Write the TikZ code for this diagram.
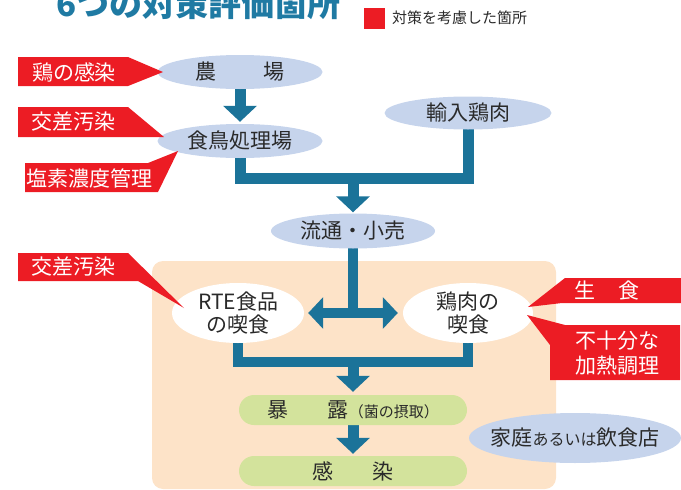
\documentclass[tikz,border=0pt]{standalone}
\usepackage{fontspec}
\setmainfont{Noto Sans CJK JP}
\usetikzlibrary{shapes.geometric,arrows.meta,calc}
\pgfdeclarelayer{back}
\pgfdeclarelayer{connlayer}
\pgfsetlayers{back,connlayer,main}
\definecolor{ellblue}{HTML}{C6D4EC}
\definecolor{arrblue}{HTML}{1B7399}
\definecolor{cred}{HTML}{EC1C24}
\definecolor{peach}{HTML}{FDE3C8}
\definecolor{pgreen}{HTML}{D3E39C}
\definecolor{txt}{HTML}{2A2A2A}
\definecolor{ttlblue}{HTML}{1F7AA3}
\begin{document}
\begin{tikzpicture}[x=1pt,y=-1pt,
  bnode/.style={ellipse,fill=ellblue,inner sep=0,text=txt,font=\fontsize{21}{23}\selectfont},
  wnode/.style={ellipse,fill=white,inner sep=0,text=txt,align=center,font=\fontsize{21}{23}\selectfont,minimum width=132pt,minimum height=60pt},
  gnode/.style={rectangle,rounded corners=15pt,fill=pgreen,inner sep=0,minimum width=228pt,minimum height=30pt,text=txt,font=\fontsize{21}{23}\selectfont},
  connline/.style={draw=arrblue,line width=11pt},
  arr/.style={connline,-{Triangle[width=33pt,length=16pt]}},
  darr/.style={draw=arrblue,line width=10pt,{Triangle[width=31pt,length=15pt]}-{Triangle[width=31pt,length=15pt]}},
  callout/.style={fill=cred},
  ctext/.style={text=white,font=\fontsize{21}{25}\selectfont,inner sep=0,align=center}
]
\useasboundingbox (0,0) rectangle (681,490);
\clip (0,0) rectangle (681,490);

% title (cut off at top, as in the reference)
\node[anchor=base west,inner sep=0,text=ttlblue,font=\fontsize{33}{33}\selectfont\bfseries] (title) at (56,16) {6つの対策評価箇所};

% legend
\node[fill=cred,minimum size=21pt,inner sep=0] (legsq) at (374,18.5) {};
\node[anchor=west,inner sep=0,text=txt,font=\fontsize{15}{17}\selectfont] (legend) at (392,18) {対策を考慮した箇所};

% background panel
\begin{pgfonlayer}{back}
\fill[peach,rounded corners=11pt] (152,261) rectangle (556,489);
\end{pgfonlayer}

% nodes
\node[bnode,minimum width=165pt,minimum height=34pt] (farm) at (240,72) {農\hspace{2.2em}場};
\node[bnode,minimum width=165pt,minimum height=34pt] (plant) at (240,141) {食鳥処理場};
\node[bnode,minimum width=167pt,minimum height=33pt] (import) at (468,113) {輸入鶏肉};
\node[bnode,minimum width=164pt,minimum height=35pt] (retail) at (353,231) {流通・小売};
\node[wnode] (rte) at (238,313) {\makebox[60pt]{RTE食品}\\\makebox[60pt]{の喫食}};
\node[wnode,minimum width=130pt] (chick) at (468,313) {\makebox[60pt]{鶏肉の}\\\makebox[60pt]{喫食}};
\node[gnode] (expo) at (353,410) {暴\hspace{1.9em}露{\fontsize{15}{16}\selectfont（菌の摂取）}};
\node[gnode] (inf) at (353,471) {感\hspace{1.9em}染};
\node[bnode,minimum width=212pt,minimum height=50pt] (home) at (575,438) {\makebox[100pt]{家庭{\fontsize{16}{16}\selectfont あるいは}飲食店}};

% connectors
\coordinate (j1) at (353,178.5);
\coordinate (j2) at (353,314);
\coordinate (j3) at (353,362);
\begin{pgfonlayer}{connlayer}
\draw[arr] (farm.center) -- ([yshift=2pt]plant.north);
\draw[connline,line join=miter] (plant.center) |- (j1) -| (import.center);
\draw[arr] (j1) -- ([yshift=1pt]retail.north);
\draw[connline,line width=10pt] (retail.center) -- (j2);
\draw[darr] ([xshift=4pt]rte.east) -- ([xshift=-5pt]chick.west);
\draw[connline,line width=10pt,line join=miter] (rte.center) |- (j3) -| (chick.center);
\draw[arr] (j3) -- ([yshift=3pt]expo.north);
\draw[arr] (expo.center) -- ([yshift=2pt]inf.north);
\end{pgfonlayer}

% red callouts
\fill[callout] (18,57) -- (128,57) -- (163,72) -- (128,86) -- (18,86) -- cycle;
\node[ctext] (c1) at (74,72) {鶏の感染};
\fill[callout] (18,107) -- (128,107) -- (164,137) -- (18,137) -- cycle;
\node[ctext] (c2) at (73,122) {交差汚染};
\fill[callout] (25,163) -- (148,163) -- (178,151) -- (158,192) -- (25,192) -- cycle;
\node[ctext] (c3) at (90,178) {塩素濃度管理};
\fill[callout] (18,253) -- (128,253) -- (184,308) -- (138,281) -- (18,281) -- cycle;
\node[ctext] (c4) at (73,267) {交差汚染};
\fill[callout] (681,278) -- (565,278) -- (528,307) -- (562,303) -- (681,303) -- cycle;
\node[ctext] (c5) at (607,291) {生\hspace{1.1em}食};
\fill[callout] (680,325) -- (565,325) -- (527,315) -- (550,345) -- (550,380) -- (680,380) -- cycle;
\node[ctext] (c6) at (617,353) {不十分な\\加熱調理};
\end{tikzpicture}
\end{document}
